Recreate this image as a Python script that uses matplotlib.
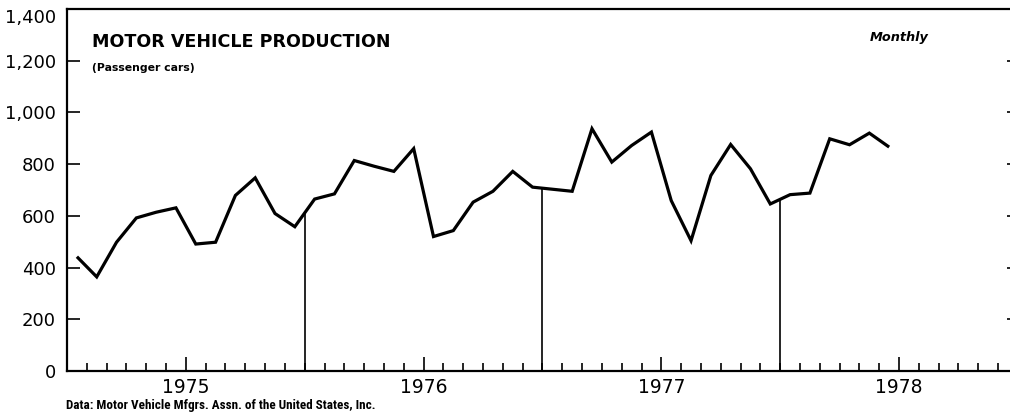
import numpy as np
import matplotlib
matplotlib.use("Agg")
import matplotlib.pyplot as plt
from matplotlib.ticker import FixedLocator, NullFormatter

# ---- data (thousands of passenger cars, monthly Jan 1975 - Jun 1978) ----
production = [442, 364, 498, 592, 614, 631, 491, 498, 679, 747, 609, 558,
              665, 685, 814, 792, 772, 860, 520, 543, 653, 695, 772, 711,
              703, 695, 937, 808, 872, 924, 659, 504, 756, 876, 782, 646,
              682, 688, 898, 875, 920, 866]
year_labels = ["1975", "1976", "1977", "1978"]
y_ticks = [0, 200, 400, 600, 800, 1000, 1200, 1400]
y_ticklabels = ["0", "200", "400", "600", "800", "1,000", "1,200", "1,400"]

months = np.arange(len(production)) + 0.5          # mid-month positions
year_mid = [12 * i + 6 for i in range(len(year_labels))]
year_bounds = [12, 24, 36]

fig = plt.figure(figsize=(10.10, 4.18), dpi=100)
ax = fig.add_axes([67 / 1010, 1 - 371 / 418, 1 - 67 / 1010, (371 - 9) / 418])

ax.plot(months, production, color="black", lw=2.3, solid_joinstyle="miter",
        solid_capstyle="butt", zorder=3)
bound_vals = np.interp(year_bounds, months, production)
ax.vlines(year_bounds, 0, bound_vals, color="black", lw=1.2, zorder=2)

ax.set_xlim(0, 47.6)
ax.set_ylim(0, 1400)

for s in ["left", "bottom", "top"]:
    ax.spines[s].set_linewidth(1.6)
ax.spines["right"].set_visible(False)

# y ticks
ax.set_yticks(y_ticks)
ax.set_yticklabels(y_ticklabels)
ax.tick_params(axis="y", direction="in", length=9, width=1.2, pad=8,
               labelsize=13)
ax.get_yticklabels()[-1].set_va("top")
ax2 = ax.twinx()
ax2.set_ylim(0, 1400)
ax2.set_yticks(y_ticks[1:-1])
ax2.tick_params(axis="y", direction="in", length=2.5, width=1.2, labelright=False)
for s in ax2.spines.values():
    s.set_visible(False)

# x ticks: monthly minor ticks, mid-year major ticks with labels
ax.set_xticks(year_mid)
ax.set_xticklabels(year_labels)
ax.xaxis.set_minor_locator(FixedLocator([m for m in range(1, 48) if m not in year_mid]))
ax.xaxis.set_minor_formatter(NullFormatter())
ax.tick_params(axis="x", which="major", direction="in", length=10, width=1.2,
               pad=5, labelsize=13.5)
ax.tick_params(axis="x", which="minor", direction="in", length=5.5, width=1.2)

# texts
fig.text(92 / 1010, 1 - 42 / 418, "MOTOR VEHICLE PRODUCTION", fontsize=12.6,
         fontweight="bold", ha="left", va="center")
fig.text(92 / 1010, 1 - 68 / 418, "(Passenger cars)", fontsize=7.8,
         fontweight="bold", ha="left", va="center")
fig.text(870 / 1010, 1 - 38 / 418, "Monthly", fontsize=9.3, fontweight="bold",
         fontstyle="italic", ha="left", va="center")
footer = fig.text(66 / 1010, 1 - 405 / 418,
                  "Data: Motor Vehicle Mfgrs. Assn. of the United States, Inc.",
                  fontsize=10.5, fontweight="bold", ha="left", va="center",
                  family=["Roboto Condensed", "Liberation Sans Narrow", "Roboto"])

# fit footer width to the reference (~310 px)
fig.canvas.draw()
w = footer.get_window_extent().width
if w > 0:
    footer.set_fontsize(10.5 * 310 / w)

fig.savefig("out.png", dpi=100)
